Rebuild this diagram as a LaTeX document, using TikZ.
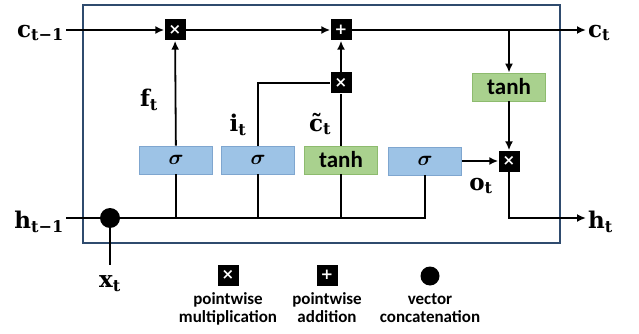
\documentclass[tikz,border=0pt]{standalone}
\usepackage{amsmath,bm}
\usepackage{fontspec}
\setsansfont{Carlito}
\newfontfamily\lblfont{DejaVu Serif}
\newfontfamily\opfont{DejaVu Sans}
\usetikzlibrary{positioning,arrows.meta,calc}
\definecolor{gatefill}{HTML}{9DC3E6}
\definecolor{gatedraw}{HTML}{7FA6CF}
\definecolor{actfill}{HTML}{A9D18E}
\definecolor{actdraw}{HTML}{8DBB6E}
\definecolor{framecol}{HTML}{2F4B6E}

\begin{document}
\begin{tikzpicture}[x=1pt, y=-1pt,
    gate/.style={rectangle, draw=gatedraw, fill=gatefill, thick, minimum width=73pt, minimum height=28pt, inner sep=0pt, font=\fontsize{20}{20}\selectfont},
    act/.style={gate, draw=actdraw, fill=actfill, font=\fontsize{23}{23}\selectfont\sffamily\bfseries},
    op/.style={rectangle, fill=black, text=white, minimum size=21pt, inner sep=0pt, font=\fontsize{15}{15}\selectfont\opfont\bfseries},
    concat/.style={circle, fill=black, minimum size=20pt, inner sep=0pt},
    lbl/.style={inner sep=2pt, font=\fontsize{23}{23}\selectfont\lblfont\bfseries},
    legend/.style={align=center, inner sep=1pt, font=\fontsize{17}{18}\selectfont\sffamily\bfseries},
    line/.style={line width=1.8pt},
    arrow/.style={line, -{Latex[length=9pt,width=8pt]}}
]
    \useasboundingbox (0,0) rectangle (639,334);

    % cell frame
    \draw[framecol, line width=1.5pt] (83,5) rectangle (560,243);

    % pointwise operations
    \node[op] (mulf) at (175,30) {×};
    \node[op] (add) at (341,30) {+};
    \node[op] (muli) at (341,83) {×};
    \node[op] (mulo) at (509,161) {×};

    % gates
    \node[gate] (sigf) at (176,160) {$\boldsymbol{\sigma}$};
    \node[gate] (sigi) at (258,160) {$\boldsymbol{\sigma}$};
    \node[act] (tanc) at (341,160) {tanh};
    \node[gate] (sigo) at (425,161) {$\boldsymbol{\sigma}$};
    \node[act] (tanout) at (509,87) {tanh};

    \node[concat] (cat) at (110,218) {};

    % inputs and outputs
    \node[lbl, anchor=east] (cprev) at (66,33) {$\text{c}_{\text{t−1}}$};
    \node[lbl, anchor=east] (hprev) at (66,222) {$\text{h}_{\text{t−1}}$};
    \node[lbl] (xin) at (110,284) {$\text{x}_{\text{t}}$};
    \node[lbl, anchor=west] (cnext) at (586,33) {$\text{c}_{\text{t}}$};
    \node[lbl, anchor=west] (hnext) at (586,222) {$\text{h}_{\text{t}}$};

    % gate outputs
    \node[lbl] (ft) at (149,100) {$\text{f}_{\text{t}}$};
    \node[lbl] (it) at (238,125) {$\text{i}_{\text{t}}$};
    \node[lbl] (ctil) at (320,124) {$\text{c̃}_{\text{t}}$};
    \node[lbl] (ot) at (481,186) {$\text{o}_{\text{t}}$};

    % cell state
    \draw[arrow] (cprev.east |- mulf) -- (mulf);
    \draw[arrow] (mulf) -- (add);
    \draw[arrow] (add) -- (add -| cnext.west);
    \coordinate (split) at (add -| tanout);
    \draw[arrow] (split) -- (tanout);
    \draw[arrow] (tanout) -- (mulo);

    % gates to operations
    \draw[arrow] (sigf) -- (mulf);
    \draw[line] (sigi) |- (muli);
    \draw[line] (tanc) -- (muli);
    \draw[arrow] (muli) -- (add);
    \draw[arrow] (sigo) -- (mulo);
    \draw[arrow] (mulo) |- (cat -| hnext.west);

    % concatenated input
    \draw[line] (hprev.east |- cat) -- (cat);
    \draw[line, shorten >=9pt] (cat) -- (xin);
    \draw[line] (cat) -| (sigo);
    \foreach \g in {sigf, sigi, tanc}
        \draw[line] (\g) -- (\g |- cat);

    % legend
    \node[op] (legmul) at (228,275) {×};
    \node[legend, below=6pt of legmul] (legmultxt) {pointwise\\multiplication};
    \node[op] (legadd) at (327,275) {+};
    \node[legend, below=6pt of legadd] (legaddtxt) {pointwise\\addition};
    \node[concat, minimum size=19pt] (legcat) at (430,276) {};
    \node[legend, below=6.5pt of legcat] (legcattxt) {vector\\concatenation};
\end{tikzpicture}
\end{document}
